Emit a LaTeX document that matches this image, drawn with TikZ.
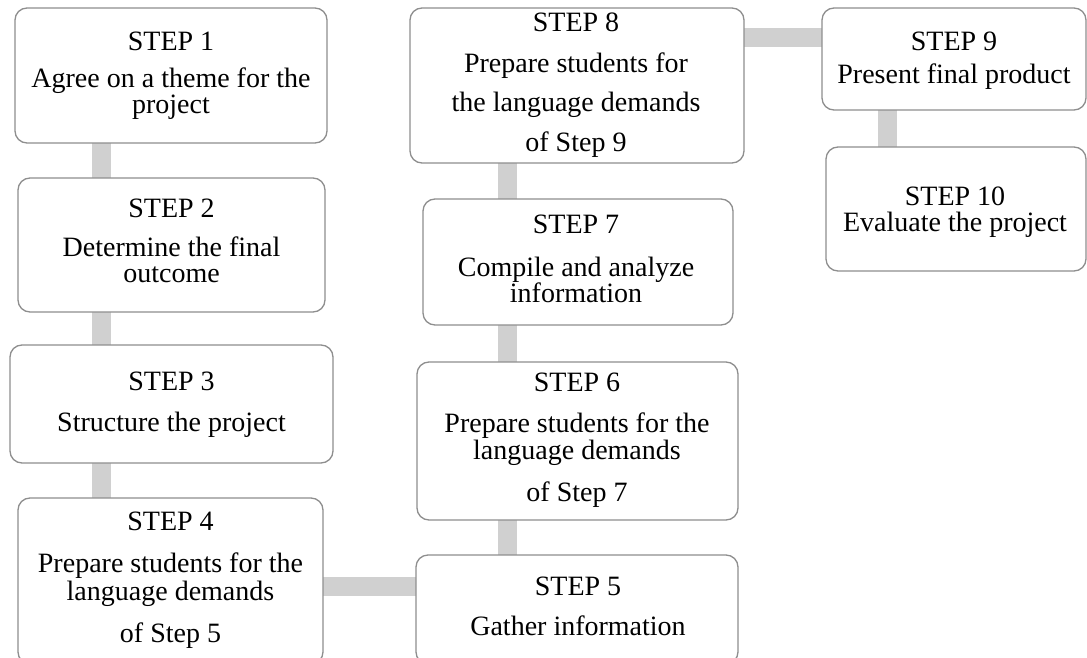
\documentclass[tikz,border=0pt]{standalone}
\usepackage{fontspec}
\setmainfont{Liberation Serif}
\usetikzlibrary{backgrounds}
\definecolor{boxline}{HTML}{8E8E8E}
\definecolor{connfill}{HTML}{D0D0D0}
\begin{document}
\begin{tikzpicture}[x=1pt,y=-1pt,
  stepbox/.style={draw=boxline, line width=1.3pt, rounded corners=12pt, fill=white, inner sep=0pt, outer sep=0pt},
  steptext/.style={align=center, inner sep=0pt, font=\fontsize{28}{26}\selectfont, text=black},
  conn/.style={draw=connfill, line width=19pt}]
\useasboundingbox (0,0) rectangle (1087,658);
% boxes
\node[stepbox, minimum width=312pt, minimum height=135pt] (s1) at (171,75.5) {};
\node[stepbox, minimum width=307pt, minimum height=134pt] (s2) at (171.5,245) {};
\node[stepbox, minimum width=323pt, minimum height=118pt] (s3) at (171.5,404) {};
\node[stepbox, minimum width=305pt, minimum height=166pt] (s4) at (170.5,581) {};
\node[stepbox, minimum width=322pt, minimum height=109pt] (s5) at (577,609.5) {};
\node[stepbox, minimum width=321pt, minimum height=158pt] (s6) at (577.5,441) {};
\node[stepbox, minimum width=310pt, minimum height=126pt] (s7) at (578,262) {};
\node[stepbox, minimum width=334pt, minimum height=155pt] (s8) at (577,85.5) {};
\node[stepbox, minimum width=264pt, minimum height=102pt] (s9) at (954,59) {};
\node[stepbox, minimum width=260pt, minimum height=124pt] (s10) at (956,209) {};
% texts
\node[steptext] (t1) at (171,75.5) {STEP 1\\[11pt]Agree\ on a theme for the\\project};
\node[steptext] (t2) at (171.5,240.5) {STEP 2\\[13pt]Determine\ the final\\outcome};
\node[steptext] (t3) at (171.5,405) {STEP 3\\[15pt]Structure the project};
\node[steptext] (t4) at (170.5,580) {STEP 4\\[16pt]Prepare students for the\\[2pt]language\ demands\\[16pt]of Step 5};
\node[steptext] (t5) at (578,606) {STEP 5\\[14pt]Gather information};
\node[steptext] (t6) at (577,440.5) {STEP 6\\[15pt]Prepare students for the\\[1pt]language\ demands\\[16pt]of Step 7};
\node[steptext] (t7) at (576,259) {STEP 7\\[17pt]Compile\ and analyze\\information};
\node[steptext] (t8) at (576,85.5) {STEP 8\\[15pt]Prepare students for\\[13pt]the language demands\\[14pt]of Step 9};
\node[steptext] (t9) at (954,60.5) {STEP 9\\[7pt]Present final product};
\node[steptext] (t10) at (955,212) {STEP 10\\[0pt]Evaluate the project};
% connector guides
\coordinate (colA) at (101,0);
\coordinate (colB) at (507.5,0);
\coordinate (colC) at (887,0);
\coordinate (rowA) at (0,586.5);
\coordinate (rowB) at (0,38);
\begin{pgfonlayer}{background}
\draw[conn] (s1.south -| colA) -- (s2.north -| colA);
\draw[conn] (s2.south -| colA) -- (s3.north -| colA);
\draw[conn] (s3.south -| colA) -- (s4.north -| colA);
\draw[conn] (s4.east |- rowA) -- (s5.west |- rowA);
\draw[conn] (s5.north -| colB) -- (s6.south -| colB);
\draw[conn] (s6.north -| colB) -- (s7.south -| colB);
\draw[conn] (s7.north -| colB) -- (s8.south -| colB);
\draw[conn] (s8.east |- rowB) -- (s9.west |- rowB);
\draw[conn] (s9.south -| colC) -- (s10.north -| colC);
\end{pgfonlayer}
\end{tikzpicture}
\end{document}
